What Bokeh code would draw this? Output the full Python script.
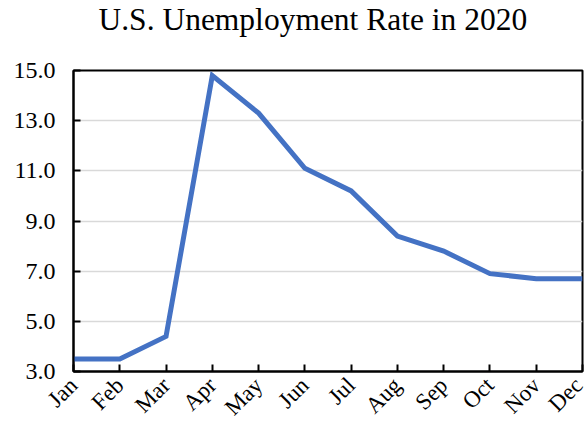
import math
from bokeh.plotting import figure
from bokeh.models import Range1d, FixedTicker, NumeralTickFormatter, Title
from bokeh.embed import file_html
from bokeh.resources import INLINE

months = ["Jan", "Feb", "Mar", "Apr", "May", "Jun", "Jul", "Aug", "Sep", "Oct", "Nov", "Dec"]
rates = [3.5, 3.5, 4.4, 14.8, 13.3, 11.1, 10.2, 8.4, 7.8, 6.9, 6.7, 6.7]
y_ticks = [3.0, 5.0, 7.0, 9.0, 11.0, 13.0, 15.0]
title_text = "U.S. Unemployment Rate in 2020"

FONT = "Liberation Serif"

p = figure(width=587, height=431, output_backend="svg", toolbar_location=None,
           x_range=Range1d(0, len(months) - 1), y_range=Range1d(3, 15),
           min_border_left=73, min_border_right=5, min_border_top=70, min_border_bottom=59)

# a second (blank) line pushes the title up towards the top edge
p.title = Title(text=title_text + "\n ", align="left", offset=25,
                vertical_align="top", standoff=0, text_line_height=0.92,
                text_font=FONT, text_font_size="31.5px", text_font_style="normal",
                text_color="#000000")

x = list(range(len(months)))
p.line(x, rates, line_color="#4472C4", line_width=5, line_join="miter")

p.xaxis.ticker = FixedTicker(ticks=x)
p.xaxis.major_label_overrides = {i: m for i, m in enumerate(months)}
p.xaxis.major_label_orientation = math.pi / 4
p.yaxis.ticker = FixedTicker(ticks=y_ticks)
p.yaxis.formatter = NumeralTickFormatter(format="0.0")

for ax in (p.xaxis, p.yaxis):
    ax.axis_line_color = "#000000"
    ax.axis_line_width = 2
    ax.major_tick_line_color = "#000000"
    ax.major_tick_line_width = 2
    ax.major_tick_in = 7
    ax.major_tick_out = 0
    ax.minor_tick_line_color = None
    ax.major_label_text_font = FONT
    ax.major_label_text_color = "#000000"

p.yaxis.major_label_text_font_size = "24px"
p.yaxis.major_label_standoff = 18
p.xaxis.major_label_text_font_size = "23px"
p.xaxis.major_label_standoff = 10

p.xgrid.grid_line_color = None
p.ygrid.grid_line_color = "#D9D9D9"
p.ygrid.grid_line_width = 1.5

p.outline_line_color = "#000000"
p.outline_line_width = 2
p.background_fill_color = "white"
p.border_fill_color = "white"

open("out.html", "w").write(file_html(p, INLINE))
